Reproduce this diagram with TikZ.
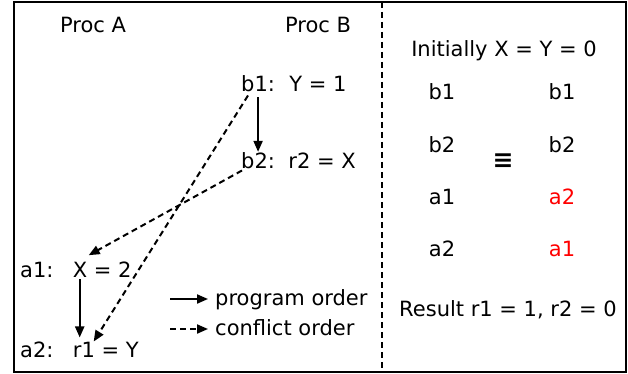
\documentclass[tikz,border=0pt]{standalone}
\usepackage{fontspec}
\setmainfont{DejaVu Sans}
\usetikzlibrary{arrows.meta,positioning}
\definecolor{rouge}{HTML}{FF0000}
\tikzset{
  txt/.style={inner sep=0pt,font=\fontsize{21}{25}\selectfont},
  prog/.style={-{Triangle[length=11pt,width=9pt]},line width=2pt},
  conf/.style={prog,dash pattern=on 6pt off 4pt},
}
\begin{document}
\begin{tikzpicture}[x=1pt,y=-1pt]
  \useasboundingbox (0,0) rectangle (628,374);
  \draw[line width=2.5pt] (14,2) rectangle (626,372);
  \draw[line width=2pt,dash pattern=on 6pt off 4pt] (382,2) -- (382,372);
  % left panel
  \node[txt,anchor=base] (pa) at (93,33) {Proc A};
  \node[txt,anchor=base] (pb) at (318,33) {Proc B};
  \node[txt,anchor=base west] (b1) at (241,92) {b1:};
  \node[txt,right=14pt of b1.base east,anchor=base west] (sb1) {Y = 1};
  \node[txt,anchor=base west] (b2) at (241,168) {b2:};
  \node[txt,right=13pt of b2.base east,anchor=base west] (sb2) {r2 = X};
  \node[txt,anchor=base west] (a1) at (20,277) {a1:};
  \node[txt,right=19pt of a1.base east,anchor=base west] (sa1) {X = 2};
  \node[txt,anchor=base west] (a2) at (20,357) {a2:};
  \node[txt,right=19pt of a2.base east,anchor=base west] (sa2) {r1 = Y};
  \draw[prog,shorten <=5pt] (b1.south) -- (b2.north);
  \draw[prog,shorten <=2pt,shorten >=4pt] ([xshift=7pt]sa1.south west) -- ([xshift=7pt]sa2.north west);
  \draw[conf] ([shift={(1,2)}]b2.south west) -- ([shift={(16,-6)}]sa1.north west);
  \draw[conf] ([shift={(7,3)}]b1.south west) -- ([shift={(21,0)}]sa2.north west);
  % legend
  \coordinate (lg1) at (170,299);
  \coordinate (lg2) at (170,329);
  \node[txt,anchor=base west] (lgp) at (215,305) {program order};
  \node[txt,anchor=base west] (lgc) at (215,335) {conflict order};
  \draw[prog,shorten >=7pt] (lg1) -- (lg1 -| lgp.west);
  \draw[conf,shorten >=7pt] (lg2) -- (lg2 -| lgc.west);
  % right panel
  \node[txt,anchor=base] (init) at (504,57) {Initially X = Y = 0};
  \foreach \t/\c [count=\i] in {b1/black,b2/black,a1/black,a2/black}
    \node[txt,anchor=base,text=\c] (l\i) at (442,{100+52.3*(\i-1)}) {\t};
  \foreach \t/\c [count=\i] in {b1/black,b2/black,a2/rouge,a1/rouge}
    \node[txt,anchor=base,text=\c] (r\i) at (562,{100+52.3*(\i-1)}) {\t};
  \node[txt,font=\fontsize{25}{25}\selectfont\bfseries] (eqv) at (503,161) {≡};
  \node[txt,anchor=base] (res) at (508,316) {Result r1 = 1, r2 = 0};
\end{tikzpicture}
\end{document}
